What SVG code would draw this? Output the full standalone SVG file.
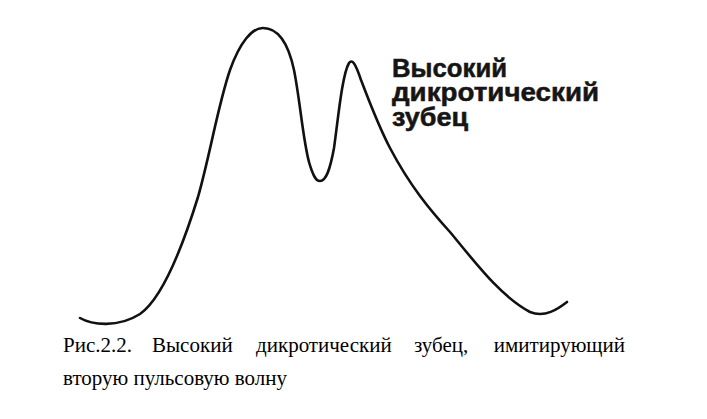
<svg xmlns="http://www.w3.org/2000/svg" width="707" height="419" viewBox="0 0 707 419">
<style>
.curve{fill:none;stroke:#111;stroke-width:2.6;stroke-linecap:round;stroke-linejoin:round}
.lbl{font-family:"Liberation Sans",Arial,sans-serif;font-weight:bold;font-size:25px;fill:#151515;stroke:#151515;stroke-width:0.5}
.cap{font-family:"Liberation Serif","Times New Roman",serif;font-size:21px;fill:#000}
</style>
<rect width="707" height="419" fill="#fff"/>
<g id="pulse-wave">
<path class="curve" d="M80,318 C92,325 118,328 140,314 C160,300 180,255 198,197 C210,155 218,105 230,70 C240,42 252,28 263,28 C278,28 288,42 294,70 C300,100 303,140 309,162 C313,176 316,181 320,181 C326,181 330,170 334,148 C338,120 342,75 349,63 C352,59 355,62 361,80 C370,103 378,125 390,148 C410,186 430,210 450,232 C475,262 500,296 530,312 C545,318 558,309 567,302"/>
</g>
<g id="label">
<text class="lbl" x="392" y="77" textLength="115" lengthAdjust="spacingAndGlyphs">Высокий</text>
<text class="lbl" x="392" y="101" textLength="207" lengthAdjust="spacingAndGlyphs">дикротический</text>
<text class="lbl" x="392" y="126" textLength="76" lengthAdjust="spacingAndGlyphs">зубец</text>
</g>
<g id="caption">
<text class="cap" x="63" y="352">Рис.2.2.</text>
<text class="cap" x="152" y="352">Высокий</text>
<text class="cap" x="256" y="352">дикротический</text>
<text class="cap" x="414" y="352">зубец,</text>
<text class="cap" x="625" y="352" text-anchor="end">имитирующий</text>
<text class="cap" x="63" y="385">вторую пульсовую волну</text>
</g>
</svg>
